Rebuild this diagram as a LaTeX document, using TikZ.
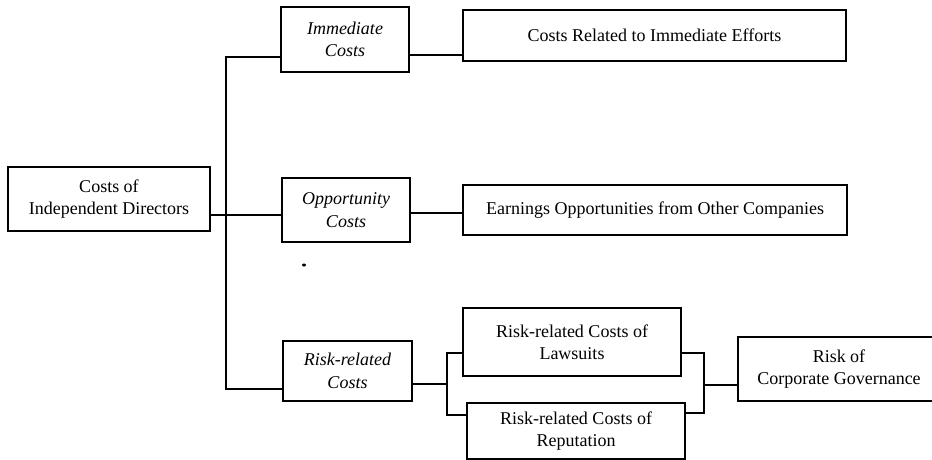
\documentclass[tikz,border=0pt]{standalone}
\usepackage{fontspec}
\setmainfont{Liberation Serif}
\begin{document}
\begin{tikzpicture}[x=1pt,y=-1pt,
  box/.style={draw,line width=1.2pt,inner sep=0pt,align=center,font=\fontsize{18}{22.5}\selectfont},
  conn/.style={line width=1.2pt}]
\useasboundingbox (0,0) rectangle (932,459);
\clip (0,0) rectangle (932,459);
\node[box,minimum width=202pt,minimum height=64pt] (root) at (109,199) {Costs of\\Independent Directors};
\node[box,minimum width=128pt,minimum height=65pt] (imm) at (345,39.5) {\itshape Immediate\\\itshape Costs};
\node[box,minimum width=128pt,minimum height=64pt] (opp) at (346,210) {\itshape Opportunity\\\itshape Costs};
\node[box,minimum width=129pt,minimum height=60pt] (risk) at (347.5,371) {\itshape Risk-related\\\itshape Costs};
\node[box,minimum width=383pt,minimum height=51pt] (crel) at (654.5,35.5) {Costs Related to Immediate Efforts};
\node[box,minimum width=384pt,minimum height=50pt] (earn) at (655,210) {Earnings Opportunities from Other Companies};
\node[box,minimum width=218pt,minimum height=68pt] (law) at (572,342) {Risk-related Costs of\\Lawsuits};
\node[box,minimum width=218pt,minimum height=56pt] (rep) at (576,431) {Risk-related Costs of\\Reputation};
\node[box,minimum width=202pt,minimum height=64pt] (rcg) at (839,369) {Risk of\\Corporate Governance};
\coordinate (tt) at (226,57);
\coordinate (tb) at (226,389);
\coordinate (rj) at (447,384);
\coordinate (rjt) at (447,353);
\coordinate (rjb) at (447,415);
\coordinate (lj) at (704,385);
\coordinate (ljt) at (704,353);
\coordinate (ljb) at (704,413);
\draw[conn] (root.east |- 0,215) -- (opp.west |- 0,215);
\draw[conn] (imm.west |- tt) -- (tt) -- (tb) -- (risk.west |- tb);
\draw[conn] (imm.east |- 0,55) -- (crel.west |- 0,55);
\draw[conn] (opp.east |- 0,213) -- (earn.west |- 0,213);
\draw[conn] (risk.east |- rj) -- (rj);
\draw[conn] (law.west |- rjt) -- (rjt) -- (rjb) -- (rep.west |- rjb);
\draw[conn] (law.east |- ljt) -- (ljt) -- (ljb) -- (rep.east |- ljb);
\draw[conn] (lj) -- (rcg.west |- lj);
\fill (304,265) ellipse (2pt and 1.5pt);
\end{tikzpicture}
\end{document}
